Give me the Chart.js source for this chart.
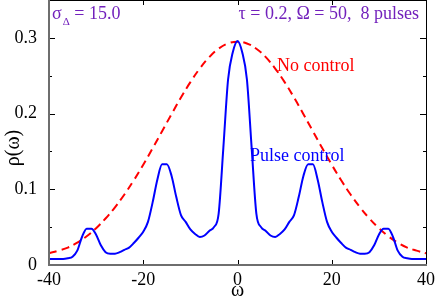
<!DOCTYPE html>
<html>
<head>
<meta charset="utf-8">
<script src="https://cdn.jsdelivr.net/npm/chart.js@4.4.0/dist/chart.umd.min.js"></script>
<style>
  html, body { margin: 0; padding: 0; background: #fff; }
  #wrap { width: 436px; height: 297px; }
</style>
</head>
<body>
<div id="wrap"><canvas id="chart" width="436" height="297"></canvas></div>
<script>
// omega grid for the pulse-control curve
const omegaPulse = [-40, -39, -38, -37, -36, -35, -34, -33, -32, -31, -30, -29, -28, -27, -26, -25, -24, -23, -22, -21,
  -20, -19, -18, -17, -16, -15, -14, -13, -12, -11, -10, -9, -8, -7, -6, -5, -4, -3, -2, -1,
  0, 1, 2, 3, 4, 5, 6, 7, 8, 9, 10, 11, 12, 13, 14, 15, 16, 17, 18, 19,
  20, 21, 22, 23, 24, 25, 26, 27, 28, 29, 30, 31, 32, 33, 34, 35, 36, 37, 38, 39, 40];
const rhoPulse = [0.008, 0.008, 0.008, 0.008, 0.009, 0.011, 0.019, 0.037, 0.048, 0.048, 0.040, 0.026, 0.017, 0.015, 0.015, 0.017, 0.020, 0.023, 0.029, 0.036,
  0.044, 0.057, 0.083, 0.113, 0.133, 0.133, 0.118, 0.090, 0.066, 0.057, 0.047, 0.041, 0.037, 0.039, 0.045, 0.050, 0.068, 0.155, 0.245, 0.281,
  0.296, 0.281, 0.245, 0.155, 0.068, 0.050, 0.045, 0.039, 0.037, 0.041, 0.047, 0.057, 0.066, 0.090, 0.118, 0.133, 0.133, 0.113, 0.083, 0.057,
  0.044, 0.036, 0.029, 0.023, 0.020, 0.017, 0.015, 0.015, 0.017, 0.026, 0.040, 0.048, 0.048, 0.037, 0.019, 0.011, 0.009, 0.008, 0.008, 0.008, 0.008];

// omega grid for the no-control curve
const omegaFree = [-40, -38, -36, -34, -32, -30, -28, -26, -24, -22, -20, -18, -16, -14, -12, -10, -8, -6, -4, -2,
  0, 2, 4, 6, 8, 10, 12, 14, 16, 18, 20, 22, 24, 26, 28, 30, 32, 34, 36, 38, 40];
const rhoFree = [0.0155, 0.019, 0.023, 0.0295, 0.038, 0.0486, 0.0614, 0.0762, 0.0931, 0.1119, 0.1324, 0.1542, 0.1767, 0.1992, 0.2211, 0.2415, 0.2595, 0.2745, 0.2857, 0.2926,
  0.295, 0.2926, 0.2857, 0.2745, 0.2595, 0.2415, 0.2211, 0.1992, 0.1767, 0.1542, 0.1324, 0.1119, 0.0931, 0.0762, 0.0614, 0.0486, 0.038, 0.0295, 0.023, 0.019, 0.0155];

const xTicks = [-40, -20, 0, 20, 40];
const yTicks = [0, 0.1, 0.2, 0.3];
const yMinorTicks = [0.05, 0.15, 0.25];

const SERIF = "'Liberation Serif', 'DejaVu Serif', serif";
const PURPLE = 'rgb(114,33,188)';

// frame, inward ticks, titles and labels
const framePlugin = {
  id: 'frame',
  afterDraw(chart) {
    const ctx = chart.ctx;
    const a = chart.chartArea;
    const xs = chart.scales.x, ys = chart.scales.y;
    ctx.save();

    // top/right thin black
    ctx.strokeStyle = '#000';
    ctx.lineWidth = 1;
    ctx.beginPath();
    ctx.moveTo(a.left, a.top + 0.5);
    ctx.lineTo(a.right + 0.5, a.top + 0.5);
    ctx.lineTo(a.right + 0.5, a.bottom);
    ctx.stroke();

    // ticks
    ctx.beginPath();
    xTicks.forEach(v => {
      const px = Math.round(xs.getPixelForValue(v)) + 0.5;
      ctx.moveTo(px, a.bottom); ctx.lineTo(px, a.bottom - 5);
      ctx.moveTo(px, a.top); ctx.lineTo(px, a.top + 5);
    });
    yTicks.forEach(v => {
      const py = Math.round(ys.getPixelForValue(v)) + 0.5;
      ctx.moveTo(a.left, py); ctx.lineTo(a.left + 6, py);
      ctx.moveTo(a.right, py); ctx.lineTo(a.right - 6, py);
    });
    yMinorTicks.forEach(v => {
      const py = Math.round(ys.getPixelForValue(v)) + 0.5;
      ctx.moveTo(a.left, py); ctx.lineTo(a.left + 3, py);
      ctx.moveTo(a.right, py); ctx.lineTo(a.right - 3, py);
    });
    ctx.stroke();

    // left/bottom axis lines, heavier grey
    ctx.strokeStyle = '#6e6e6e';
    ctx.lineWidth = 2;
    ctx.beginPath();
    ctx.moveTo(a.left, a.top);
    ctx.lineTo(a.left, a.bottom);
    ctx.lineTo(a.right + 1, a.bottom);
    ctx.stroke();

    // axis titles
    ctx.fillStyle = '#000';
    ctx.font = '20px ' + SERIF;
    ctx.textAlign = 'center';
    ctx.textBaseline = 'alphabetic';
    ctx.fillText('ω', xs.getPixelForValue(0), 296);
    ctx.save();
    ctx.translate(19, 148);
    ctx.rotate(-Math.PI / 2);
    ctx.fillText('ρ(ω)', 0, 0);
    ctx.restore();

    // annotations
    ctx.textAlign = 'left';
    ctx.fillStyle = PURPLE;
    ctx.font = '18px ' + SERIF;
    ctx.fillText('σ', 52, 19);
    const sw = ctx.measureText('σ').width;
    ctx.font = '11px ' + SERIF;
    ctx.fillText('Δ', 52 + sw + 1, 25);
    const dw = ctx.measureText('Δ').width;
    ctx.font = '18px ' + SERIF;
    ctx.fillText(' = 15.0', 52 + sw + dw + 1, 19);

    ctx.textAlign = 'right';
    ctx.fillText('τ = 0.2, Ω = 50,  8 pulses', 419, 19);

    ctx.textAlign = 'left';
    ctx.fillStyle = '#ff0000';
    ctx.fillText('No control', 277, 71);
    ctx.fillStyle = '#0000ff';
    ctx.fillText('Pulse control', 250, 161);

    ctx.restore();
  }
};

const ctx = document.getElementById('chart').getContext('2d');
new Chart(ctx, {
  type: 'line',
  data: {
    datasets: [
      {
        label: 'Pulse control',
        data: omegaPulse.map((w, i) => ({ x: w, y: rhoPulse[i] })),
        borderColor: '#0000ff',
        borderWidth: 2,
        pointRadius: 0,
        fill: false,
        cubicInterpolationMode: 'monotone'
      },
      {
        label: 'No control',
        data: omegaFree.map((w, i) => ({ x: w, y: rhoFree[i] })),
        borderColor: '#ff0000',
        borderWidth: 2,
        borderDash: [8, 5],
        pointRadius: 0,
        fill: false,
        tension: 0.4
      }
    ]
  },
  options: {
    responsive: false,
    animation: false,
    layout: { padding: { top: 0, right: 10, left: 0, bottom: 0 } },
    plugins: { legend: { display: false }, tooltip: { enabled: false } },
    scales: {
      x: {
        type: 'linear',
        min: -40,
        max: 40,
        afterBuildTicks: scale => { scale.ticks = xTicks.map(v => ({ value: v })); },
        afterFit: scale => {
          scale.height = 32;
          scale.paddingLeft = 0;
          scale.paddingRight = 0;
        },
        grid: { display: false },
        border: { display: false },
        ticks: {
          color: '#000',
          font: { family: SERIF, size: 18 },
          padding: -4,
          maxRotation: 0,
          autoSkip: false
        }
      },
      y: {
        min: 0,
        max: 0.35,
        afterBuildTicks: scale => { scale.ticks = yTicks.map(v => ({ value: v })); },
        afterFit: scale => {
          scale.width = 49;
          scale.paddingTop = 0;
          scale.paddingBottom = 0;
        },
        grid: { display: false },
        border: { display: false },
        ticks: {
          color: '#000',
          font: { family: SERIF, size: 18 },
          padding: 4,
          callback: v => (v === 0 ? '0' : v.toFixed(1))
        }
      }
    }
  },
  plugins: [framePlugin]
});
</script>
</body>
</html>
